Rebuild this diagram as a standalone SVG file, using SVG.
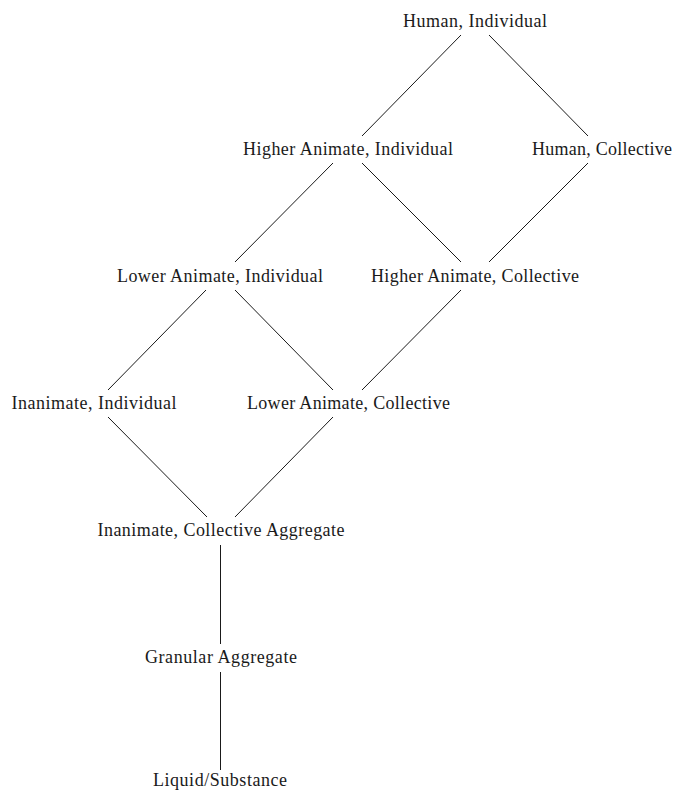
<svg xmlns="http://www.w3.org/2000/svg" width="674" height="792" viewBox="0 0 674 792">
<style>
.lbl{font-family:"Liberation Serif","Times New Roman",serif;font-size:18px;fill:#1a1a1a;text-anchor:middle}
.edge{stroke:#1a1a1a;stroke-width:1;fill:none}
</style>
<rect width="674" height="792" fill="#fff"/>
<g id="connectors">
<line class="edge" x1="461" y1="35" x2="362" y2="136"/>
<line class="edge" x1="489" y1="35" x2="588" y2="136"/>
<line class="edge" x1="333" y1="163" x2="235" y2="262"/>
<line class="edge" x1="362" y1="163" x2="461" y2="262"/>
<line class="edge" x1="588" y1="163" x2="489" y2="262"/>
<line class="edge" x1="206" y1="290" x2="108" y2="390"/>
<line class="edge" x1="235" y1="290" x2="333" y2="390"/>
<line class="edge" x1="461" y1="290" x2="362" y2="390"/>
<line class="edge" x1="108" y1="417" x2="207" y2="517"/>
<line class="edge" x1="333" y1="417" x2="235" y2="517"/>
<line class="edge" x1="220.5" y1="545" x2="220.5" y2="644"/>
<line class="edge" x1="220.5" y1="672" x2="220.5" y2="770"/>
</g>
<g id="human-individual"><text class="lbl" x="475" y="27" textLength="144">Human, Individual</text></g>
<g id="higher-animate-individual"><text class="lbl" x="348" y="155" textLength="210">Higher Animate, Individual</text></g>
<g id="human-collective"><text class="lbl" x="602" y="155" textLength="140">Human, Collective</text></g>
<g id="lower-animate-individual"><text class="lbl" x="220" y="282" textLength="206">Lower Animate, Individual</text></g>
<g id="higher-animate-collective"><text class="lbl" x="475" y="282" textLength="208">Higher Animate, Collective</text></g>
<g id="inanimate-individual"><text class="lbl" x="94" y="409" textLength="165">Inanimate, Individual</text></g>
<g id="lower-animate-collective"><text class="lbl" x="348.5" y="409" textLength="203">Lower Animate, Collective</text></g>
<g id="inanimate-collective-aggregate"><text class="lbl" x="221" y="536" textLength="247">Inanimate, Collective Aggregate</text></g>
<g id="granular-aggregate"><text class="lbl" x="221" y="663" textLength="152">Granular Aggregate</text></g>
<g id="liquid-substance"><text class="lbl" x="220" y="786" textLength="134">Liquid/Substance</text></g>
</svg>
